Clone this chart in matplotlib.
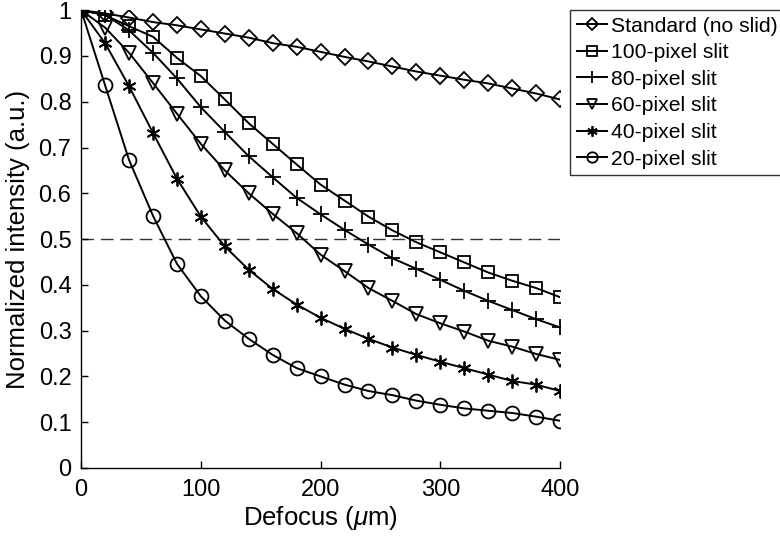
import matplotlib
matplotlib.use('Agg')
import matplotlib.pyplot as plt
import numpy as np

plt.rcParams['font.family'] = ['Liberation Sans', 'DejaVu Sans']
plt.rcParams['mathtext.fontset'] = 'custom'
plt.rcParams['mathtext.it'] = 'Liberation Sans:italic'

defocus = list(range(0, 401, 20))

standard = [1.0, 0.993, 0.984, 0.974, 0.967, 0.958, 0.949, 0.940, 0.928, 0.920, 0.909,
            0.898, 0.888, 0.877, 0.866, 0.857, 0.848, 0.840, 0.829, 0.818, 0.805]
slit100 = [1.0, 0.989, 0.965, 0.942, 0.896, 0.856, 0.805, 0.753, 0.708, 0.663, 0.619,
           0.584, 0.549, 0.519, 0.493, 0.471, 0.449, 0.427, 0.409, 0.393, 0.373]
slit80 = [1.0, 0.990, 0.956, 0.907, 0.851, 0.788, 0.734, 0.681, 0.635, 0.590, 0.554,
          0.520, 0.488, 0.458, 0.435, 0.411, 0.387, 0.365, 0.345, 0.325, 0.307]
slit60 = [1.0, 0.962, 0.907, 0.841, 0.774, 0.708, 0.650, 0.600, 0.555, 0.513, 0.466,
          0.430, 0.393, 0.365, 0.336, 0.316, 0.298, 0.278, 0.265, 0.249, 0.236]
slit40 = [1.0, 0.928, 0.834, 0.732, 0.632, 0.549, 0.484, 0.433, 0.391, 0.357, 0.328,
          0.304, 0.282, 0.263, 0.247, 0.232, 0.218, 0.204, 0.190, 0.182, 0.168]
slit20 = [1.0, 0.836, 0.673, 0.551, 0.446, 0.375, 0.322, 0.282, 0.247, 0.218, 0.200,
          0.182, 0.168, 0.159, 0.147, 0.138, 0.130, 0.125, 0.120, 0.112, 0.103]

labels = ['Standard (no slid)', '100-pixel slit', '80-pixel slit',
          '60-pixel slit', '40-pixel slit', '20-pixel slit']
series = [standard, slit100, slit80, slit60, slit40, slit20]
markers = ['D', 's', '+', 'v', (6, 2, 0), 'o']
msizes = [8, 9, 11, 10, 10, 10]

fig = plt.figure(figsize=(7.8, 5.36), dpi=100)
ax = fig.add_axes([0.104, 0.127, 0.614, 0.854])

ax.axhline(0.5, color='#333333', lw=1.0, ls=(0, (9, 5)), zorder=1)

for y, lab, m, ms in zip(series, labels, markers, msizes):
    ax.plot(defocus, y, color='black', lw=1.4, marker=m, ms=ms,
            mfc='none', mec='black', mew=1.3, label=lab, zorder=3)

ax.set_xlim(0, 400)
ax.set_ylim(0, 1)
ax.set_xticks([0, 100, 200, 300, 400])
ax.set_yticks(np.arange(0, 1.01, 0.1))
ax.set_yticklabels(['0', '0.1', '0.2', '0.3', '0.4', '0.5', '0.6', '0.7', '0.8', '0.9', '1'])
ax.tick_params(direction='in', length=5, labelsize=17, width=1)
ax.tick_params(axis='y', pad=7)
ax.tick_params(axis='x', pad=8)
ax.spines['top'].set_visible(False)
ax.spines['right'].set_visible(False)
for s in ['left', 'bottom']:
    ax.spines[s].set_linewidth(1.0)
ax.set_xlabel(r'Defocus ($\mathit{\mu}$m)', fontsize=18.5, labelpad=2)
ax.set_ylabel('Normalized intensity (a.u.)', fontsize=18.5, labelpad=6)

leg = fig.legend(loc='upper left', bbox_to_anchor=(0.731, 0.981), fontsize=15.2,
                 handlelength=1.45, handletextpad=0.2, labelspacing=0.36,
                 borderpad=0.3, borderaxespad=0, fancybox=False,
                 edgecolor='#333333', framealpha=1, markerscale=0.75)
leg.get_frame().set_linewidth(1.0)

fig.savefig('out.png', dpi=100)
